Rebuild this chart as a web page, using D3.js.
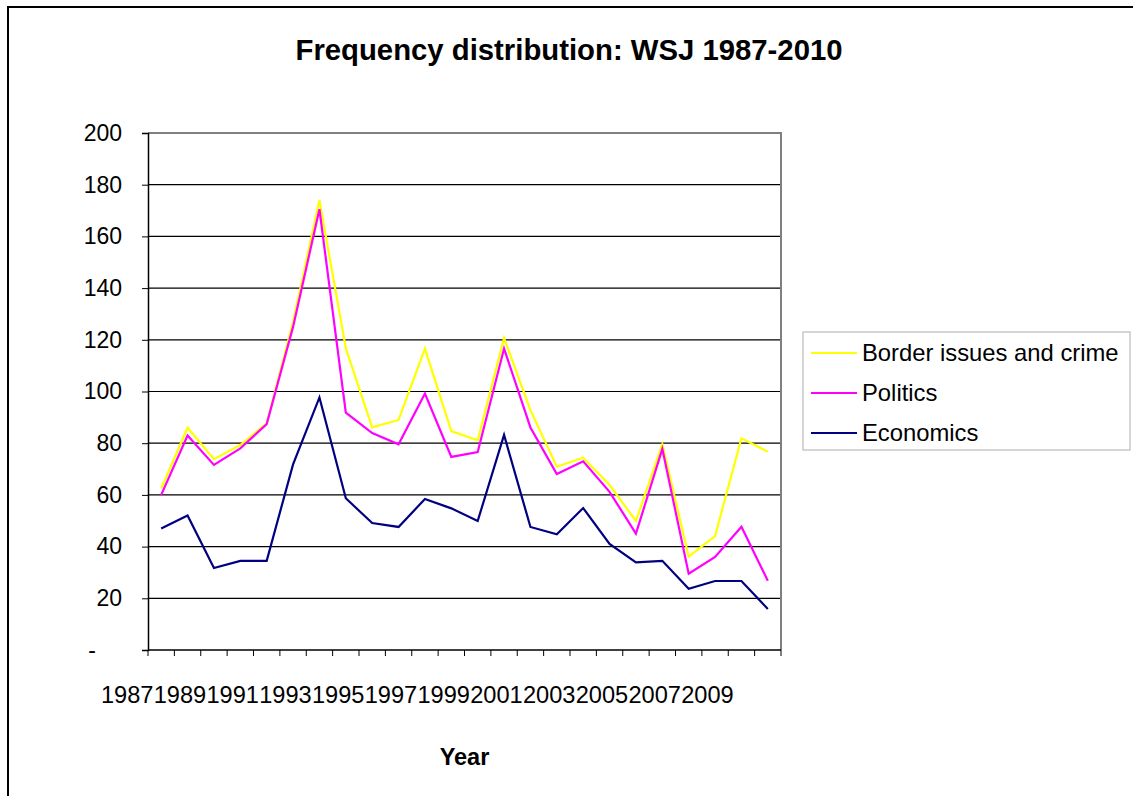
<!DOCTYPE html>
<html>
<head>
<meta charset="utf-8">
<script src="https://d3js.org/d3.v7.min.js"></script>
<style>
  body { margin: 0; background: #fff; }
  text { font-family: Arial, "Liberation Sans", sans-serif; }
</style>
</head>
<body>
<div id="chart"></div>
<script>
"use strict"
// values
var years = [1987, 1988, 1989, 1990, 1991, 1992, 1993, 1994, 1995, 1996, 1997, 1998,
             1999, 2000, 2001, 2002, 2003, 2004, 2005, 2006, 2007, 2008, 2009, 2010];
var border = [62.5, 86, 73.8, 79.3, 87.7, 127, 174, 116.7, 86.1, 89, 116.6, 84.7,
              81.1, 120.7, 92.8, 70.9, 74.4, 63.8, 49.9, 79.6, 36.1, 44.1, 81.9, 76.7];
var politics = [60, 83, 71.6, 78, 87.4, 125, 170.5, 91.8, 83.9, 79.6, 99.2, 74.7,
                76.6, 116.6, 86.1, 68.1, 73, 61.2, 45, 77.8, 29.5, 36, 47.7, 26.8];
var economics = [47, 52, 31.7, 34.5, 34.5, 71.8, 97.7, 58.7, 49.1, 47.6, 58.4, 54.8,
                 49.9, 83.2, 47.6, 44.8, 54.9, 41, 33.9, 34.5, 23.7, 26.7, 26.7, 15.9];
var yTicks = [0, 20, 40, 60, 80, 100, 120, 140, 160, 180, 200];
var xLabels = [1987, 1989, 1991, 1993, 1995, 1997, 1999, 2001, 2003, 2005, 2007, 2009];

var series = [
  {name: "Border issues and crime", values: border, color: "#ffff00"},
  {name: "Politics", values: politics, color: "#ff00ff"},
  {name: "Economics", values: economics, color: "#000080"}
];

var width = 1133, height = 796;
var plot = {left: 148, right: 781, top: 133, bottom: 650};

var svg = d3.select("#chart").append("svg")
    .attr("width", width)
    .attr("height", height);

// outer chart border (runs off the picture on right and bottom)
svg.append("rect")
    .attr("x", 8).attr("y", 7)
    .attr("width", 1200).attr("height", 900)
    .attr("fill", "#fff")
    .attr("stroke", "#000")
    .attr("stroke-width", 2);

var x = d3.scaleBand().domain(years).range([plot.left, plot.right]);
var y = d3.scaleLinear().domain([0, 200]).range([plot.bottom, plot.top]);

// gridlines
svg.append("g").selectAll("line")
    .data(yTicks.filter(function(d) { return d > 0 && d < 200; }))
    .enter().append("line")
    .attr("x1", plot.left).attr("x2", plot.right)
    .attr("y1", function(d) { return y(d); })
    .attr("y2", function(d) { return y(d); })
    .attr("stroke", "#000")
    .attr("stroke-width", 1.2);

// plot frame (top and right in grey)
svg.append("path")
    .attr("d", "M" + plot.left + "," + y(200) + "H" + plot.right + "V" + plot.bottom)
    .attr("fill", "none")
    .attr("stroke", "#808080")
    .attr("stroke-width", 2);

// y axis
var yAxis = d3.axisLeft(y)
    .tickValues(yTicks)
    .tickSize(6)
    .tickPadding(20)
    .tickFormat(function(d) { return d === 0 ? "-" : d; });

var gy = svg.append("g")
    .attr("transform", "translate(" + plot.left + ",0)")
    .call(yAxis);
gy.select(".domain").attr("stroke", "#000").attr("stroke-width", 1.5);
gy.selectAll(".tick line").attr("stroke", "#000");
gy.selectAll(".tick text")
    .attr("fill", "#000")
    .style("font-size", "23px")
    .attr("dx", function(d) { return d === 0 ? -26 : 0; });

// x axis: labels every other year
var xAxis = d3.axisBottom(x)
    .tickValues(xLabels)
    .tickSize(0)
    .tickPadding(36);

var gx = svg.append("g")
    .attr("transform", "translate(0," + plot.bottom + ")")
    .call(xAxis);
gx.select(".domain").remove();
gx.selectAll(".tick text")
    .attr("fill", "#000")
    .attr("dx", -34)
    .style("font-size", "23.6px");

// x tick marks on the category boundaries
svg.append("g").selectAll("line")
    .data(years.concat(["end"]))
    .enter().append("line")
    .attr("x1", function(d, i) { return plot.left + i * x.step(); })
    .attr("x2", function(d, i) { return plot.left + i * x.step(); })
    .attr("y1", plot.bottom)
    .attr("y2", plot.bottom + 6)
    .attr("stroke", "#000");

svg.append("line")
    .attr("x1", plot.left).attr("x2", plot.right)
    .attr("y1", plot.bottom).attr("y2", plot.bottom)
    .attr("stroke", "#000")
    .attr("stroke-width", 1.5);

// lines
var line = d3.line()
    .x(function(d, i) { return x(years[i]) + x.bandwidth() / 2; })
    .y(function(d) { return y(d); });

svg.append("g").selectAll("path")
    .data(series)
    .enter().append("path")
    .attr("fill", "none")
    .attr("stroke", function(d) { return d.color; })
    .attr("stroke-width", 2.2)
    .attr("stroke-linejoin", "miter")
    .attr("d", function(d) { return line(d.values); });

// title
svg.append("text")
    .attr("x", 569)
    .attr("y", 60)
    .attr("text-anchor", "middle")
    .style("font-size", "29.3px")
    .style("font-weight", "bold")
    .text("Frequency distribution: WSJ 1987-2010");

// x axis title
svg.append("text")
    .attr("x", (plot.left + plot.right) / 2)
    .attr("y", 765)
    .attr("text-anchor", "middle")
    .style("font-size", "23.5px")
    .style("font-weight", "bold")
    .text("Year");

// legend
var legend = svg.append("g");
legend.append("rect")
    .attr("x", 803).attr("y", 332)
    .attr("width", 327).attr("height", 118)
    .attr("fill", "#fff")
    .attr("stroke", "#c8c8c8")
    .attr("stroke-width", 1.5);

var items = legend.selectAll(".item")
    .data(series)
    .enter().append("g")
    .attr("transform", function(d, i) { return "translate(0," + (353 + i * 40) + ")"; });

items.append("line")
    .attr("x1", 811).attr("x2", 857)
    .attr("stroke", function(d) { return d.color; })
    .attr("stroke-width", 2);

items.append("text")
    .attr("x", 862)
    .attr("y", 8)
    .style("font-size", "23.8px")
    .text(function(d) { return d.name; });
</script>
</body>
</html>
